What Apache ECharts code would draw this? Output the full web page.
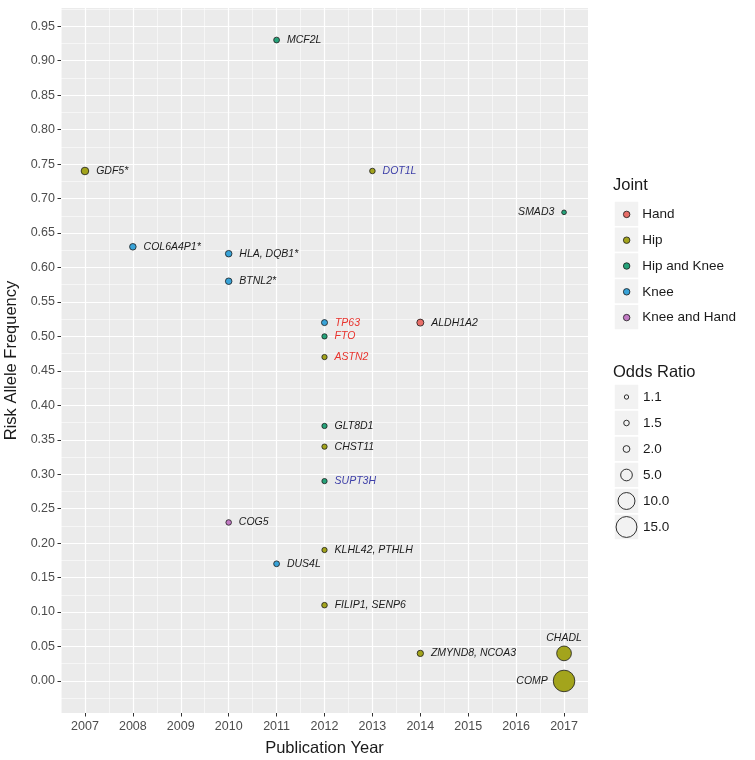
<!DOCTYPE html>
<html><head><meta charset="utf-8">
<script src="https://cdn.jsdelivr.net/npm/echarts@6/dist/echarts.min.js"></script>
<style>html,body{margin:0;padding:0;background:#fff}#c{width:755px;height:760px}</style>
</head><body><div id="c"></div><script>
// ---------------- data ----------------
const genes = ['GDF5*','COL6A4P1*','HLA, DQB1*','BTNL2*','MCF2L','DOT1L','SMAD3','TP63','ALDH1A2','FTO','ASTN2','GLT8D1','CHST11','SUPT3H','COG5','KLHL42, PTHLH','DUS4L','FILIP1, SENP6','ZMYND8, NCOA3','CHADL','COMP'];
const years = [2007,2008,2010,2010,2011,2013,2017,2012,2014,2012,2012,2012,2012,2012,2010,2012,2011,2012,2014,2017,2017];
const freqs = [0.74,0.63,0.62,0.58,0.93,0.74,0.68,0.52,0.52,0.50,0.47,0.37,0.34,0.29,0.23,0.19,0.17,0.11,0.04,0.04,0.00];
const joints = ['Hip','Knee','Knee','Knee','Hip and Knee','Hip','Hip and Knee','Knee','Hand','Hip and Knee','Hip','Hip and Knee','Hip','Hip and Knee','Knee and Hand','Hip','Knee','Hip','Hip','Hip','Hip'];
const oddsRatios = [2.4,1.9,1.9,1.9,1.6,1.5,1.2,1.7,2.1,1.4,1.4,1.4,1.4,1.4,1.5,1.4,1.6,1.5,1.8,7.7,16];
const jointCategories = ['Hand','Hip','Hip and Knee','Knee','Knee and Hand'];
const yearTicks = [2007,2008,2009,2010,2011,2012,2013,2014,2015,2016,2017];
const freqTicks = [0.00,0.05,0.10,0.15,0.20,0.25,0.30,0.35,0.40,0.45,0.50,0.55,0.60,0.65,0.70,0.75,0.80,0.85,0.90,0.95];
const oddsBreaks = [1.1,1.5,2.0,5.0,10.0,15.0];
const oddsBreakLabels = ['1.1','1.5','2.0','5.0','10.0','15.0'];

// ---------------- styles ----------------
const jointColors = {'Hand':'#e86e68','Hip':'#a3a41c','Hip and Knee':'#26a37a','Knee':'#38a3d8','Knee and Hand':'#c27bc4'};
const labelColors = {'TP63':'#e8332d','FTO':'#e8332d','ASTN2':'#e8332d','DOT1L':'#3d3fa8','SUPT3H':'#3d3fa8'};
const labelPlacement = {'SMAD3':'left','COMP':'left','CHADL':'top'};
const labelDistance = {'CHADL':2,'COMP':5};
const FONT = '"Liberation Sans", Arial, Helvetica, sans-serif';

function sizeScale(or){ return Math.sqrt(Math.max(1, -14 + 30*or)); }

// axis limits with ggplot-like 5% expansion
const xr = [Math.min(...years), Math.max(...years)];
const yr = [Math.min(...freqs), Math.max(...freqs)];
const xPad = (xr[1]-xr[0])*0.05, yPad = (yr[1]-yr[0])*0.05;
const xMin = xr[0]-xPad, xMax = xr[1]+xPad, yMin = yr[0]-yPad, yMax = yr[1]+yPad;
const step = (a)=>a[1]-a[0];
const xMinor = [yearTicks[0]-step(yearTicks)/2].concat(yearTicks.map(v=>v+step(yearTicks)/2)).filter(v=>v>=xMin&&v<=xMax);
const yMinor = [freqTicks[0]-step(freqTicks)/2].concat(freqTicks.map(v=>+(v+step(freqTicks)/2).toFixed(4))).filter(v=>v>=yMin&&v<=yMax);

const GRID = {left:61, right:167, top:8, bottom:47};

const series = jointCategories.map(cat => ({
  name: cat,
  type: 'scatter',
  xAxisIndex: 0, yAxisIndex: 0,
  symbol: 'circle',
  symbolSize: (val)=>sizeScale(val[2]),
  itemStyle: {color: jointColors[cat], borderColor:'#1a1a1a', borderWidth:0.8, opacity:1},
  label: {show:true, formatter:'{b}', fontStyle:'italic', fontFamily:FONT, fontSize:10.5, color:'#1a1a1a', position:'right', distance:7},
  emphasis:{disabled:true},
  data: genes.map((g,i)=>({g,i})).filter(o=>joints[o.i]===cat).map(o=>{
    const it = {name:o.g, value:[years[o.i], freqs[o.i], oddsRatios[o.i]]};
    const lab = {};
    if (labelColors[o.g]) lab.color = labelColors[o.g];
    if (labelPlacement[o.g]) lab.position = labelPlacement[o.g];
    if (labelDistance[o.g]!==undefined) lab.distance = labelDistance[o.g];
    it.label = lab;
    return it;
  }),
  z: 3
}));

// legend graphics
const graphics = [];
graphics.push({type:'text', left:613, top:177, style:{text:'Joint', font:'16.5px '+FONT, fill:'#1a1a1a'}});
const jTop = 201, jStep = 25.8;
jointCategories.forEach((c,k)=>{
  graphics.push({type:'rect', shape:{x:614, y:jTop+k*jStep, width:25, height:jStep}, style:{fill:'#f2f2f2', stroke:'#fff', lineWidth:1.5}, z:1});
});
graphics.push({type:'text', left:613, top:364, style:{text:'Odds Ratio', font:'16.5px '+FONT, fill:'#1a1a1a'}});
const sTop = 384, sStep = 26;
oddsBreaks.forEach((b,k)=>{
  const cy = sTop + k*sStep + sStep/2;
  graphics.push({type:'rect', shape:{x:614, y:sTop+k*sStep, width:25, height:sStep}, style:{fill:'#f2f2f2', stroke:'#fff', lineWidth:1.5}, z:1});
  graphics.push({type:'circle', shape:{cx:626.5, cy:cy, r:sizeScale(b)/2}, style:{fill:'none', stroke:'#1a1a1a', lineWidth:0.9}, z:2});
  graphics.push({type:'text', x:643, y:cy, style:{text:oddsBreakLabels[k], font:'13.5px '+FONT, fill:'#1a1a1a', verticalAlign:'middle'}, z:2});
});

const option = {
  animation:false,
  backgroundColor:'#fff',
  textStyle:{fontFamily:FONT},
  grid:{...GRID, show:true, backgroundColor:'#ebebeb', borderWidth:0, containLabel:false, outerBoundsMode:'none'},
  legend:{
    data: jointCategories, orient:'vertical', left:618, top:jTop+(jStep-16)/2-4.5, icon:'circle',
    itemWidth:25, itemHeight:6.5, itemGap:jStep-16, selectedMode:false, z:5,
    itemStyle:{borderWidth:0.8, borderColor:'#1a1a1a'},
    textStyle:{fontSize:13.5, color:'#1a1a1a', fontFamily:FONT, lineHeight:16, padding:[0,0,0,-2]}
  },
  xAxis:[
    {type:'value', min:xMin, max:xMax, gridIndex:0, position:'bottom',
     name:'Publication Year', nameLocation:'middle', nameGap:27,
     nameTextStyle:{fontSize:16.5, color:'#1a1a1a', fontFamily:FONT},
     axisLine:{show:false, onZero:false},
     axisTick:{show:true, customValues:yearTicks, length:3.5, lineStyle:{color:'#333', width:1}},
     axisLabel:{customValues:yearTicks, formatter:v=>String(Math.round(v)), color:'#4d4d4d', fontSize:12.5, margin:7, fontFamily:FONT},
     splitLine:{show:true, lineStyle:{color:'#fff', width:1.2}}, z:2},
    {type:'value', min:xMin, max:xMax, gridIndex:0, position:'bottom',
     axisLine:{show:false, onZero:false}, axisLabel:{show:false},
     axisTick:{show:false, customValues:xMinor},
     splitLine:{show:true, lineStyle:{color:'#fff', width:0.55}}, z:1}
  ],
  yAxis:[
    {type:'value', min:yMin, max:yMax, gridIndex:0, position:'left',
     name:'Risk Allele Frequency', nameLocation:'middle', nameGap:37,
     nameTextStyle:{fontSize:16.5, color:'#1a1a1a', fontFamily:FONT},
     axisLine:{show:false, onZero:false},
     axisTick:{show:true, customValues:freqTicks, length:3.5, lineStyle:{color:'#333', width:1}},
     axisLabel:{customValues:freqTicks, formatter:v=>v.toFixed(2), color:'#4d4d4d', fontSize:12.5, margin:6, fontFamily:FONT},
     splitLine:{show:true, lineStyle:{color:'#fff', width:1.2}}, z:2},
    {type:'value', min:yMin, max:yMax, gridIndex:0, position:'left',
     axisLine:{show:false, onZero:false}, axisLabel:{show:false},
     axisTick:{show:false, customValues:yMinor},
     splitLine:{show:true, lineStyle:{color:'#fff', width:0.55}}, z:1}
  ],
  graphic: graphics,
  series: series
};
const chart = echarts.init(document.getElementById('c'), null, {renderer:'canvas'});
chart.setOption(option);
</script></body></html>
